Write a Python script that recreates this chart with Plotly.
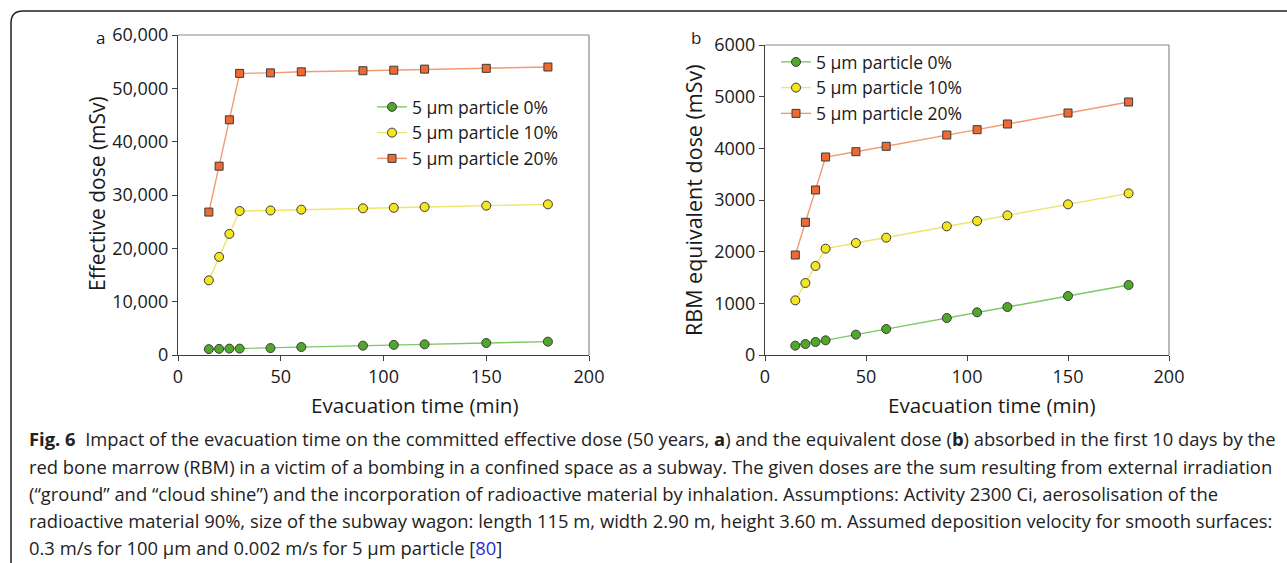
import plotly.graph_objects as go

# ---------------- data ----------------
time_min = [15, 20, 25, 30, 45, 60, 90, 105, 120, 150, 180]

eff_0 = [1100, 1150, 1200, 1200, 1300, 1500, 1750, 1900, 2000, 2250, 2500]
eff_10 = [14000, 18400, 22700, 27000, 27100, 27250, 27500, 27600, 27750, 28000, 28250]
eff_20 = [26800, 35400, 44100, 52800, 52900, 53100, 53300, 53400, 53600, 53750, 54000]

rbm_0 = [181, 213, 252, 284, 394, 503, 716, 826, 929, 1142, 1355]
rbm_10 = [1058, 1394, 1723, 2058, 2168, 2271, 2490, 2594, 2703, 2916, 3129]
rbm_20 = [1935, 2568, 3194, 3832, 3935, 4039, 4258, 4361, 4471, 4684, 4897]

series_names = ["5 μm particle 0%", "5 μm particle 10%", "5 μm particle 20%"]
x_ticks = [0, 50, 100, 150, 200]
eff_ticks = [0, 10000, 20000, 30000, 40000, 50000, 60000]
rbm_ticks = [0, 1000, 2000, 3000, 4000, 5000, 6000]

x_title = "Evacuation time (min)"
eff_title = "Effective dose (mSv)"
rbm_title = "RBM equivalent dose (mSv)"

caption_lines = [
    "<b>Fig. 6</b>  Impact of the evacuation time on the committed effective dose (50 years, <b>a</b>) and the equivalent dose (<b>b</b>) absorbed in the first 10 days by the",
    "red bone marrow (RBM) in a victim of a bombing in a confined space as a subway. The given doses are the sum resulting from external irradiation",
    "(“ground” and “cloud shine”) and the incorporation of radioactive material by inhalation. Assumptions: Activity 2300 Ci, aerosolisation of the",
    "radioactive material 90%, size of the subway wagon: length 115 m, width 2.90 m, height 3.60 m. Assumed deposition velocity for smooth surfaces:",
    "0.3 m/s for 100 μm and 0.002 m/s for 5 μm particle [<span style='color:#2a2ae0'>80</span>]",
]

# ---------------- styles ----------------
FONT = "Open Sans"
TXT = "#1a1a1a"
line_cols = ["#7cc865", "#eee56a", "#f29a72"]
mark_cols = ["#4fa82a", "#f3e520", "#ef6a32"]
symbols = ["circle", "circle", "square"]
msizes = [9, 9, 8]

W, H = 1287, 563
fig = go.Figure()

panels = [
    dict(xa="x", ya="y", data=[eff_0, eff_10, eff_20], legend="legend"),
    dict(xa="x2", ya="y2", data=[rbm_0, rbm_10, rbm_20], legend="legend2"),
]
for p in panels:
    for i, ys in enumerate(p["data"]):
        fig.add_trace(go.Scatter(
            x=time_min, y=ys, name=series_names[i], mode="lines+markers",
            xaxis=p["xa"], yaxis=p["ya"], legend=p["legend"],
            line=dict(color=line_cols[i], width=1.4),
            marker=dict(symbol=symbols[i], size=msizes[i], color=mark_cols[i],
                        line=dict(color="#3a3a3a", width=1)),
        ))

def px_x(v):
    return v / W

def px_y(v):
    return 1 - v / H

ax_common = dict(showline=True, linecolor="#404040", linewidth=1.2, ticks="outside",
                 ticklen=5, tickcolor="#404040", showgrid=False, zeroline=False,
                 automargin=False,
                 tickfont=dict(family=FONT, size=18, color=TXT))

a_dom_x = [px_x(178), px_x(589)]
b_dom_x = [px_x(765), px_x(1169)]
a_dom_y = [px_y(355), px_y(35)]
b_dom_y = [px_y(355), px_y(45)]

fig.update_layout(
    width=W, height=H, margin=dict(l=0, r=0, t=0, b=0, autoexpand=False),
    paper_bgcolor="white", plot_bgcolor="white",
    font=dict(family=FONT, color=TXT),
    xaxis=dict(domain=a_dom_x, range=[0, 200], tickvals=x_ticks, anchor="y", **ax_common),
    yaxis=dict(domain=a_dom_y, range=[0, 60000], tickvals=eff_ticks, tickformat=",d",
               anchor="x", **ax_common),
    xaxis2=dict(domain=b_dom_x, range=[0, 200], tickvals=x_ticks, anchor="y2", **ax_common),
    yaxis2=dict(domain=b_dom_y, range=[0, 6000], tickvals=rbm_ticks, tickformat="d",
                anchor="x2", **ax_common),
    legend=dict(x=px_x(372), y=px_y(89), xanchor="left", yanchor="top",
                bgcolor="rgba(0,0,0,0)", font=dict(family=FONT, size=17.5, color=TXT),
                tracegroupgap=0, itemwidth=30),
    legend2=dict(x=px_x(776), y=px_y(44), xanchor="left", yanchor="top",
                 bgcolor="rgba(0,0,0,0)", font=dict(family=FONT, size=17.5, color=TXT),
                 tracegroupgap=0, itemwidth=30),
    showlegend=True,
)

# frame lines top/right of each plot
for dx, dy in [(a_dom_x, a_dom_y), (b_dom_x, b_dom_y)]:
    fig.add_shape(type="line", xref="paper", yref="paper", x0=dx[0], x1=dx[1], y0=dy[1], y1=dy[1],
                  line=dict(color="#8a8a8a", width=1.2))
    fig.add_shape(type="line", xref="paper", yref="paper", x0=dx[1], x1=dx[1], y0=dy[0], y1=dy[1],
                  line=dict(color="#8a8a8a", width=1.2))

# outer rounded border (top and left)
r = 12
x0, y0 = 11, 11
path = (f"M {px_x(x0)},{px_y(H + 5)} L {px_x(x0)},{px_y(y0 + r)} "
        f"Q {px_x(x0)},{px_y(y0)} {px_x(x0 + r)},{px_y(y0)} L {px_x(W + 5)},{px_y(y0)}")
fig.add_shape(type="path", xref="paper", yref="paper", path=path,
              line=dict(color="#222222", width=1.5))

# axis titles
def ann(x, y, text, size, angle=0, xanchor="center", color=TXT):
    fig.add_annotation(x=px_x(x), y=px_y(y), xref="paper", yref="paper", text=text,
                       showarrow=False, xanchor=xanchor, yanchor="middle", textangle=angle,
                       font=dict(family=FONT, size=size, color=color))

ann(415, 405, x_title, 20.6)
ann(992, 405, x_title, 20.6)
ann(97, 194, eff_title, 21)
fig.layout.annotations[-1].textangle = -90
ann(693, 200, rbm_title, 21.5, angle=-90)

# panel letters
ann(100, 37, "a", 17)
ann(696, 37, "b", 17)

# caption
cap_y = [438, 466, 493, 520, 547]
for txt, yy in zip(caption_lines, cap_y):
    ann(27, yy, txt, 18.4, xanchor="left", color="#222222")

fig.write_html(
    "out.html",
    config={"displayModeBar": False},
    post_script="document.body.style.margin='0';document.body.style.overflow='hidden';",
)
